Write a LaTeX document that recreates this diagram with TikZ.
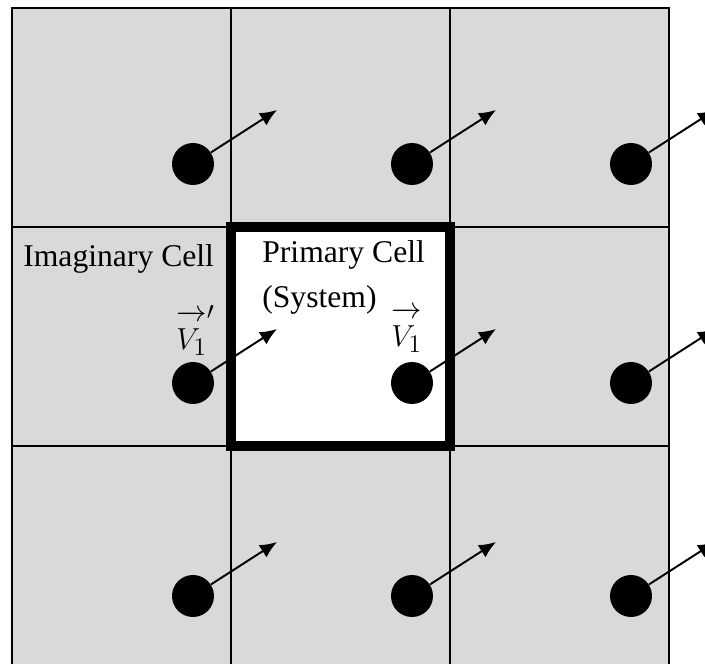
\documentclass[tikz,border=0pt]{standalone}
\usepackage{fontspec}
\setmainfont{Liberation Serif}
\usetikzlibrary{arrows.meta}
\definecolor{cellgrey}{HTML}{D9D9D9}

\begin{document}
\begin{tikzpicture}[
  gridline/.style={line width=0.85pt},
  ball/.style={circle,fill=black,inner sep=0pt,minimum size=0.840cm},
  vel/.style={line width=1.1pt,-{Latex[length=0.340cm,width=0.290cm]}},
  lbl/.style={font=\fontsize{18}{22}\selectfont,anchor=base west,inner sep=0pt},
  vlbl/.style={font=\fontsize{19}{23}\selectfont,anchor=base west,inner sep=0pt}]
\useasboundingbox (0.000,0.000) rectangle (14.100,-13.280);
\clip (0.000,0.000) rectangle (14.100,-13.280);
% image cells
\fill[cellgrey] (0.240,-0.160) rectangle (13.380,-13.300);
\draw[gridline] (0.240,-0.160) rectangle (13.380,-13.300);
\draw[gridline] (4.620,-0.160) -- (4.620,-13.300);
\draw[gridline] (9.000,-0.160) -- (9.000,-13.300);
\draw[gridline] (0.240,-4.540) -- (13.380,-4.540);
\draw[gridline] (0.240,-8.920) -- (13.380,-8.920);
% primary cell
\draw[line width=6pt,fill=white] (4.620,-4.540) rectangle (9.000,-8.920);
\node[lbl] (imag) at (0.460,-5.340) {Imaginary Cell};
\node[lbl] (prim) at (5.240,-5.260) {Primary Cell};
\node[lbl] (sys) at (5.240,-6.160) {(System)};
\node[vlbl] (vimg) at (3.520,-7.000) {$\overrightarrow{\rule{0pt}{0.92em}V_1}'$};
\node[vlbl] (vsys) at (7.820,-6.940) {$\overrightarrow{\rule{0pt}{0.92em}V_1}$};
% particles
\node[ball] (b11) at (3.860,-3.280) {};
\node[ball] (b12) at (8.240,-3.280) {};
\node[ball] (b13) at (12.620,-3.280) {};
\node[ball] (b21) at (3.860,-7.660) {};
\node[ball] (b22) at (8.240,-7.660) {};
\node[ball] (b23) at (12.620,-7.660) {};
\node[ball] (b31) at (3.860,-11.920) {};
\node[ball] (b32) at (8.240,-11.920) {};
\node[ball] (b33) at (12.620,-11.920) {};
% velocity heads
\coordinate (h11) at (5.540,-2.200);
\coordinate (h12) at (9.920,-2.200);
\coordinate (h13) at (14.300,-2.200);
\coordinate (h21) at (5.540,-6.580);
\coordinate (h22) at (9.920,-6.580);
\coordinate (h23) at (14.300,-6.580);
\coordinate (h31) at (5.540,-10.840);
\coordinate (h32) at (9.920,-10.840);
\coordinate (h33) at (14.300,-10.840);
\draw[vel] (b11) -- (h11);
\draw[vel] (b12) -- (h12);
\draw[vel] (b13) -- (h13);
\draw[vel] (b21) -- (h21);
\draw[vel] (b22) -- (h22);
\draw[vel] (b23) -- (h23);
\draw[vel] (b31) -- (h31);
\draw[vel] (b32) -- (h32);
\draw[vel] (b33) -- (h33);
\end{tikzpicture}
\end{document}
